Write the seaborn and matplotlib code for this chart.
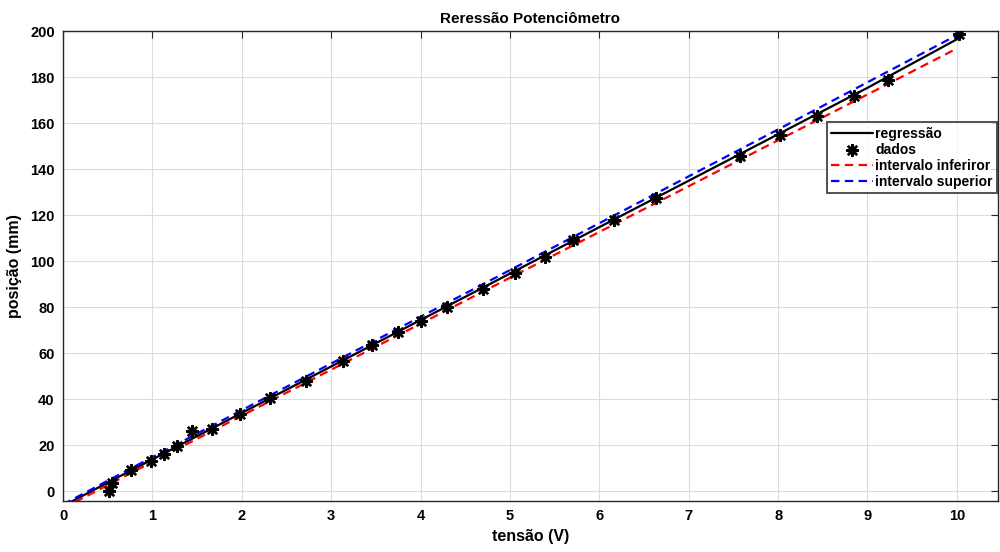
import matplotlib
matplotlib.use("Agg")
import matplotlib.pyplot as plt
import seaborn as sns
import pandas as pd

# measured points
tensao = [0.51, 0.55, 0.76, 0.98, 1.13, 1.28, 1.44, 1.67, 1.98, 2.32, 2.72, 3.13,
          3.46, 3.75, 4.00, 4.30, 4.70, 5.06, 5.39, 5.70, 6.16, 6.63, 7.57, 8.02,
          8.43, 8.85, 9.23, 10.02]
posicao = [0.0, 3.5, 9.0, 13.0, 16.0, 19.5, 26.0, 27.0, 33.5, 40.4, 48.0, 56.5,
           63.5, 69.0, 74.0, 80.0, 88.0, 95.0, 102.0, 109.0, 118.0, 127.4, 145.6, 155.0,
           163.0, 172.0, 179.0, 199.0]

# regression curve and interval bounds
reg_x = [0.0, 0.55, 1.0, 2.0, 3.0, 4.0, 5.0, 6.0, 7.0, 8.0, 9.0, 10.0, 10.02]
reg_y = [-6.5, 4.7, 13.8, 34.0, 54.2, 74.4, 94.6, 114.8, 135.0, 155.2, 175.4, 196.5, 199.0]
lim_x = [0.0, 1.0, 2.0, 3.0, 4.0, 5.0, 6.0, 7.0, 8.0, 9.0, 10.0]
inferior = [-7.5, 12.7, 32.8, 52.8, 72.8, 92.8, 112.7, 132.6, 152.6, 172.5, 192.5]
superior = [-5.8, 14.8, 35.2, 55.5, 75.8, 96.1, 116.5, 136.9, 157.3, 177.8, 198.3]

df_reg = pd.DataFrame({"x": reg_x, "y": reg_y})
df_lim = pd.DataFrame({"x": lim_x, "inf": inferior, "sup": superior})
df_dados = pd.DataFrame({"x": tensao, "y": posicao})

sns.set_style("whitegrid")
plt.rcParams["font.family"] = ["Liberation Sans", "DejaVu Sans"]
plt.rcParams["font.weight"] = "bold"
plt.rcParams["text.color"] = "black"
plt.rcParams["axes.labelcolor"] = "black"
plt.rcParams["xtick.color"] = "black"
plt.rcParams["ytick.color"] = "black"

fig = plt.figure(figsize=(10, 5.52), dpi=100)
ax = fig.add_axes([0.063, 0.0924, 0.935, 0.851])

sns.lineplot(data=df_reg, x="x", y="y", ax=ax, color="black", linewidth=1.6,
             label="regressão", sort=False, estimator=None)
sns.scatterplot(data=df_dados, x="x", y="y", ax=ax, marker=(8, 2, 0), s=60,
                color="black", edgecolor="black", linewidth=1.8, label="dados", zorder=4)
sns.lineplot(data=df_lim, x="x", y="inf", ax=ax, color="red", linewidth=1.6,
             label="intervalo inferiror")
sns.lineplot(data=df_lim, x="x", y="sup", ax=ax, color="blue", linewidth=1.6,
             label="intervalo superior")
for ln in ax.lines[1:]:
    ln.set_dashes((3.8, 2.4))

ax.set_xlim(0, 10.46)
ax.set_ylim(-4.3, 200)
ax.set_xticks(range(0, 11))
ax.set_yticks(range(0, 201, 20))
ax.grid(True, color="#dcdcdc", linewidth=0.8)
for s in ax.spines.values():
    s.set_color("#262626")
    s.set_linewidth(1.0)
ax.tick_params(direction="in", top=True, right=True, length=5, width=0.8,
               color="#262626", labelsize=10.5, pad=6)
for lab in ax.get_xticklabels() + ax.get_yticklabels():
    lab.set_fontweight("bold")

ax.set_title("Reressão Potenciômetro", fontsize=11, fontweight="bold", pad=6)
ax.set_xlabel("tensão (V)", fontsize=11.5, fontweight="bold", labelpad=4)
ax.set_ylabel("posição (mm)", fontsize=11.5, fontweight="bold", labelpad=6)

leg = ax.legend(loc="upper right", bbox_to_anchor=(0.999, 0.806), fontsize=10,
                frameon=True, fancybox=False, handlelength=3.0, handletextpad=0.2,
                borderpad=0.3, labelspacing=0.15, borderaxespad=0)
leg.get_frame().set_edgecolor("#262626")
leg.get_frame().set_linewidth(1.4)
for h in leg.legend_handles[2:]:
    h.set_dashes((3.8, 2.4))
for t in leg.get_texts():
    t.set_fontweight("bold")

fig.savefig("out.png", dpi=100)
